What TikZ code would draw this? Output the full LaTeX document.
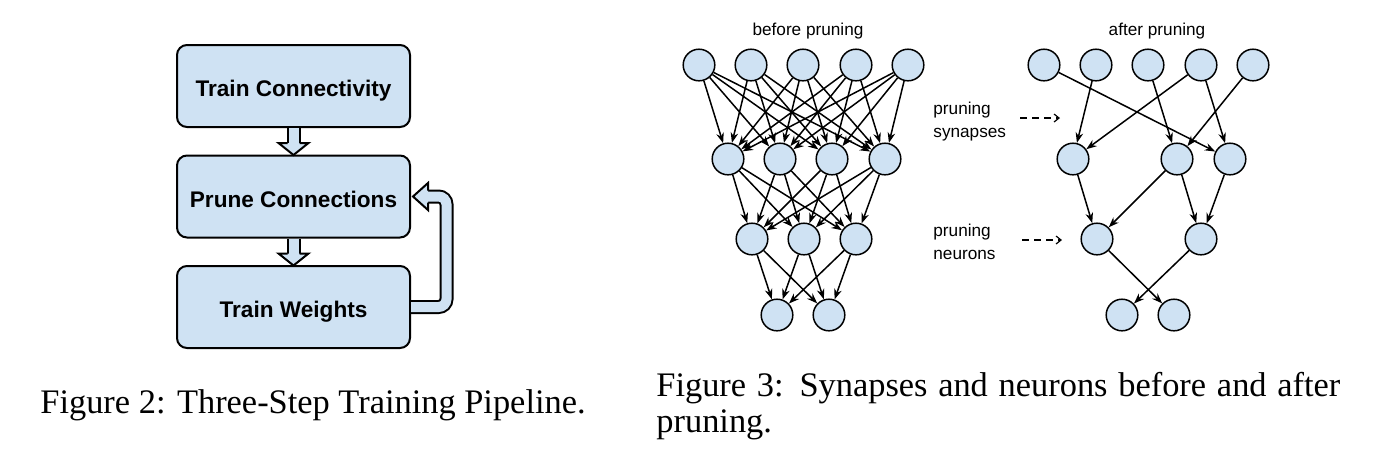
\documentclass[tikz,border=0pt]{standalone}
\usepackage{fontspec}
\setmainfont{Liberation Serif}
\setsansfont{Liberation Sans}
\usetikzlibrary{arrows.meta,calc}
\definecolor{nfill}{RGB}{207,226,243}
\begin{document}
\begin{tikzpicture}[x=0.5pt,y=-0.5pt,
  box/.style={draw, line width=1pt, fill=nfill, rounded corners=5pt, minimum width=116.5pt, minimum height=41pt, inner sep=0pt, text height=10.5pt, text depth=0pt, font=\sffamily\bfseries\fontsize{11.3}{13}\selectfont},
  band/.style={draw, double=nfill, double distance=5pt, line width=1pt},
  headline/.style={line width=1pt, line join=miter},
  neuron/.style={circle, draw, line width=0.75pt, fill=nfill, minimum size=15.8pt, inner sep=0pt},
  syn/.style={line width=0.75pt, -{Stealth[length=5.2pt,width=3.8pt]}},
  lab/.style={font=\sffamily\fontsize{8.6}{11.5}\selectfont, inner sep=0pt},
  captext/.style={font=\fontsize{17.2}{18}\selectfont, inner sep=0pt, anchor=base west},
  dasharr/.style={line width=0.6pt, dash pattern=on 3.5pt off 2.5pt, -{Straight Barb[length=2.5pt,width=4pt]}}
]
\useasboundingbox (0,0) rectangle (1378,462);

% ---- Figure 2: pipeline ----
\node[box] (b1) at (293.5,86) {Train Connectivity};
\node[box] (b2) at (293.5,196.5) {Prune Connections};
\node[box] (b3) at (293.5,307) {Train Weights};

% block arrow b1 -> b2
\draw[band] (b1.south) -- ($(b1.south)+(0,15)$);
\fill[nfill] ($(b1.south)+(-15,15)$) -- ($(b1.south)+(0,27)$) -- ($(b1.south)+(15,15)$) -- cycle;
\draw[headline] ($(b1.south)+(-6,15)$) -- ($(b1.south)+(-15,15)$) -- ($(b1.south)+(0,27)$) -- ($(b1.south)+(15,15)$) -- ($(b1.south)+(6,15)$);
% block arrow b2 -> b3
\draw[band] (b2.south) -- ($(b2.south)+(0,15)$);
\fill[nfill] ($(b2.south)+(-15,15)$) -- ($(b2.south)+(0,27)$) -- ($(b2.south)+(15,15)$) -- cycle;
\draw[headline] ($(b2.south)+(-6,15)$) -- ($(b2.south)+(-15,15)$) -- ($(b2.south)+(0,27)$) -- ($(b2.south)+(15,15)$) -- ($(b2.south)+(6,15)$);
% feedback arrow b3 -> b2
\draw[band, rounded corners=4pt] (b3.east) -- ++(35.5,0) |- ($(b2.east)+(17,0)$);
\fill[nfill] ($(b2.east)+(17,-13.5)$) -- ($(b2.east)+(2,0)$) -- ($(b2.east)+(17,13.5)$) -- cycle;
\draw[headline] ($(b2.east)+(17,-6)$) -- ($(b2.east)+(17,-13.5)$) -- ($(b2.east)+(2,0)$) -- ($(b2.east)+(17,13.5)$) -- ($(b2.east)+(17,6)$);

% ---- Figure 3: before pruning ----
\node[lab] (bp) at (808,31) {before pruning};
\foreach \x [count=\i] in {699,751,803,856,908} \node[neuron] (t\i) at (\x,65) {};
\foreach \x [count=\i] in {728,780,832,885} \node[neuron] (m\i) at (\x,159) {};
\foreach \x [count=\i] in {752,804,856} \node[neuron] (l\i) at (\x,239) {};
\foreach \x [count=\i] in {777,829} \node[neuron] (o\i) at (\x,315) {};
\foreach \i in {1,...,5} \foreach \j in {1,...,4} \draw[syn] (t\i) -- (m\j);
\foreach \i in {1,...,4} \foreach \j in {1,...,3} \draw[syn] (m\i) -- (l\j);
\foreach \i in {1,...,3} \foreach \j in {1,2} \draw[syn] (l\i) -- (o\j);

% ---- labels in the middle ----
\node[lab, align=left, anchor=west] (ps) at (933,121.5) {pruning\\synapses};
\node[lab, align=left, anchor=west] (pn) at (933,241.5) {pruning\\neurons};
\coordinate (d1a) at (1020,118);
\coordinate (d1b) at (1060,118);
\coordinate (d2a) at (1022,240);
\coordinate (d2b) at (1062,240);
\draw[dasharr] (d1a) -- (d1b);
\draw[dasharr] (d2a) -- (d2b);

% ---- after pruning ----
\node[lab] (ap) at (1157,31) {after pruning};
\foreach \x [count=\i] in {1044,1096,1148,1201,1253} \node[neuron] (at\i) at (\x,65) {};
\node[neuron] (am1) at (1073,159) {};
\node[neuron] (am3) at (1177,159) {};
\node[neuron] (am4) at (1230,159) {};
\node[neuron] (al1) at (1097,239) {};
\node[neuron] (al3) at (1201,239) {};
\node[neuron] (ao1) at (1122,315) {};
\node[neuron] (ao2) at (1174,315) {};
\draw[syn] (at1) -- (am4);
\draw[syn] (at2) -- (am1);
\draw[syn] (at3) -- (am3);
\draw[syn] (at4) -- (am1);
\draw[syn] (at4) -- (am4);
\draw[syn] (at5) -- (am3);
\draw[syn] (am1) -- (al1);
\draw[syn] (am3) -- (al1);
\draw[syn] (am3) -- (al3);
\draw[syn] (am4) -- (al3);
\draw[syn] (al1) -- (ao2);
\draw[syn] (al3) -- (ao1);

% ---- captions ----
\node[captext] (c1) at (40,413) {Figure 2: Three-Step Training Pipeline.};
\node[captext] (c2) at (656,396) {\hbox to 342pt{Figure 3: Synapses and neurons before and after}};
\node[captext] (c3) at (656,432) {pruning.};
\end{tikzpicture}
\end{document}
